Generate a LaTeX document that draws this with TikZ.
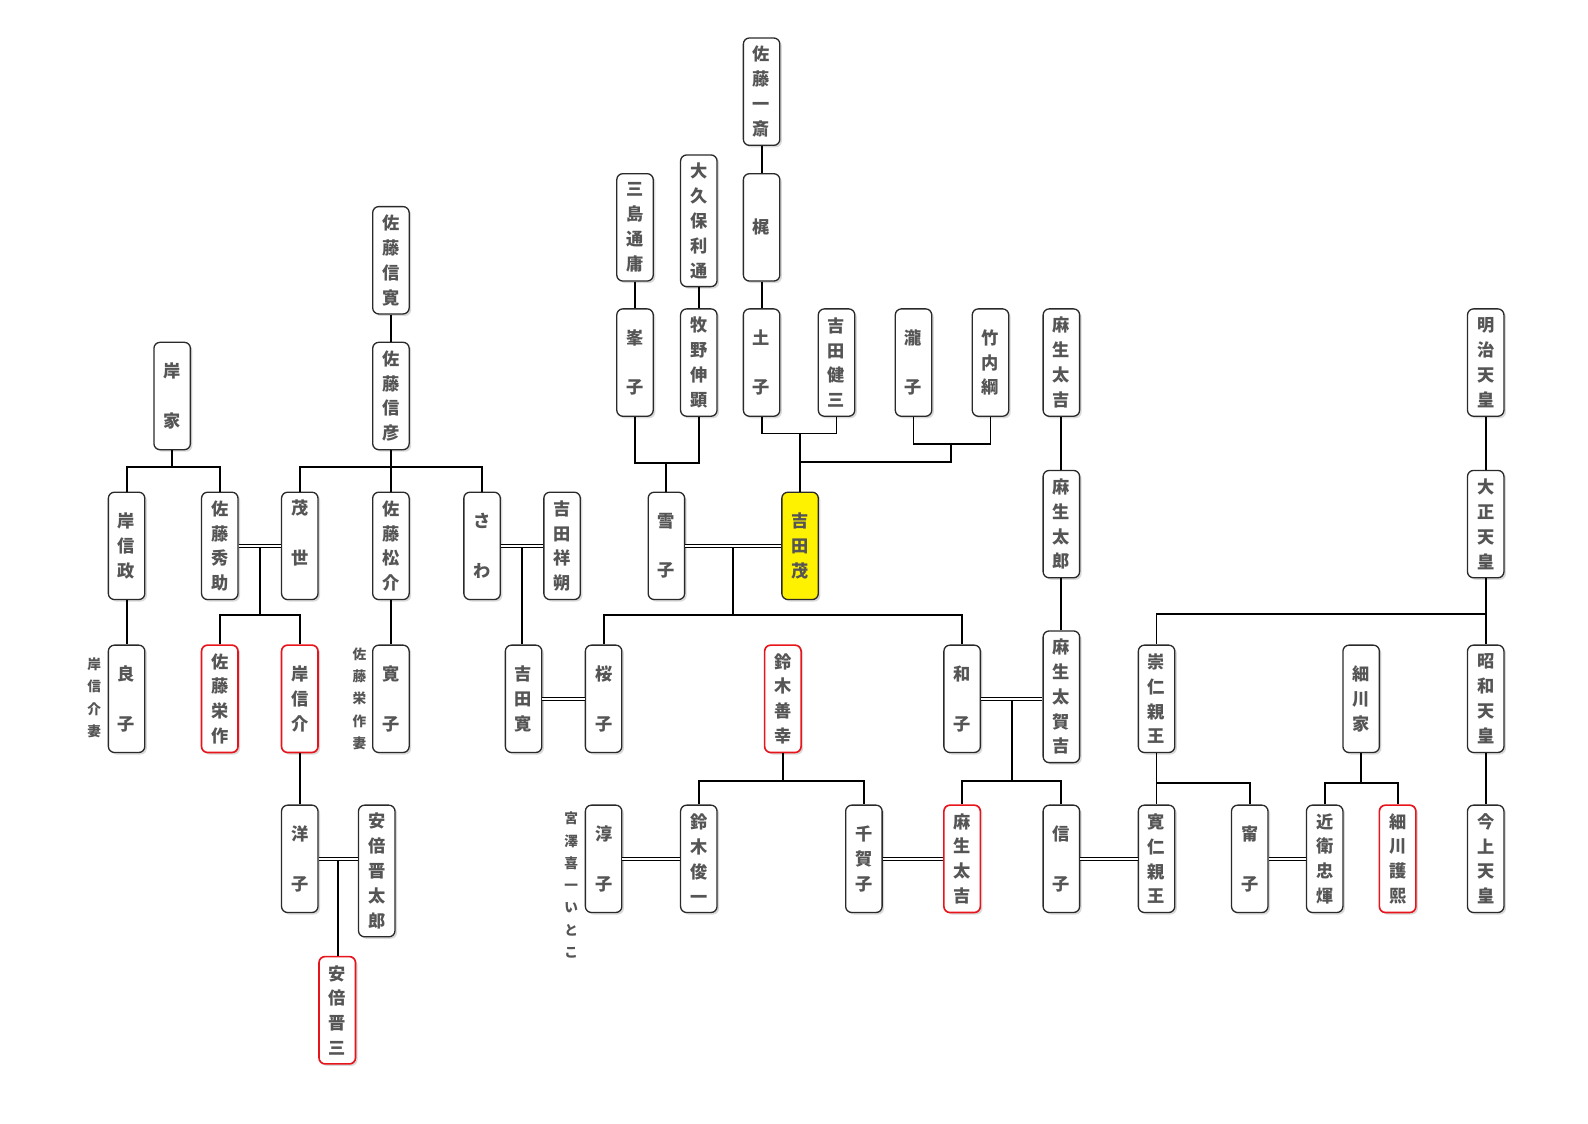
\documentclass[tikz,border=0pt]{standalone}
\usepackage{fontspec}
\newfontfamily\jp{Noto Sans CJK JP}
\usetikzlibrary{shadows,calc}
\definecolor{txt}{HTML}{555555}
\definecolor{bd}{HTML}{2A2A2A}
\definecolor{rd}{HTML}{E8141B}
\tikzset{
  btxt/.style={inner sep=0pt, align=center, text=txt, font=\jp\bfseries\fontsize{17}{24.5}\selectfont},
  pbox/.style={btxt, draw=bd, line width=1.3pt, rounded corners=6pt, fill=white,
    minimum width=36pt, minimum height=106pt,
    drop shadow={shadow xshift=2pt, shadow yshift=-2pt, opacity=0.15, fill=black}},
  tall/.style={minimum height=130pt},
  redb/.style={draw=rd, line width=1.6pt},
  yel/.style={fill=yellow},
  side/.style={inner sep=0pt, align=center, text=txt, font=\jp\bfseries\fontsize{13.5}{22}\selectfont},
  link/.style={draw=black, line width=1.8pt},
  dbl/.style={draw=black, line width=1pt, double=white, double distance=1.7pt},
}
\begin{document}
\begin{tikzpicture}[x=1pt,y=1pt]
\useasboundingbox[fill=white] (0,0) rectangle (1568,-1109);
% ---- top rows
\node[pbox] (issai) at (752,-90.5) {佐\\藤\\一\\斎};
\node[pbox] (kaji) at (752,-224.5) {梶};
\node[pbox,tall] (okubo) at (690,-218) {大\\久\\保\\利\\通};
\node[pbox] (mishima) at (627,-224.5) {三\\島\\通\\庸};
\node[pbox] (nobuhiro) at (386,-257) {佐\\藤\\信\\寛};
\node[pbox] (mineko) at (627,-358) {峯\\[24.5pt]子};
\node[pbox] (makino) at (690,-358) {牧\\野\\伸\\顕};
\node[pbox] (tsuchiko) at (752,-358) {土\\[24.5pt]子};
\node[pbox] (kenzo) at (826,-358) {吉\\田\\健\\三};
\node[pbox] (takiko) at (902,-358) {瀧\\[24.5pt]子};
\node[pbox] (takeuchi) at (978,-358) {竹\\内\\綱};
\node[pbox] (takichi) at (1048,-358) {麻\\生\\太\\吉};
\node[pbox] (meiji) at (1467,-358) {明\\治\\天\\皇};
\node[pbox] (kishike) at (170,-391) {岸\\[24.5pt]家};
\node[pbox] (nobuhiko) at (386,-391) {佐\\藤\\信\\彦};
% ---- row D
\node[pbox] (nobumasa) at (125,-539) {岸\\信\\政};
\node[pbox] (hidesuke) at (217,-539) {佐\\藤\\秀\\助};
\node[pbox] (moyo) at (296,-539) {};
\node[btxt] (moyot) at (296,-526) {茂\\[24.5pt]世};
\node[pbox] (matsusuke) at (386,-539) {佐\\藤\\松\\介};
\node[pbox] (sawa) at (476,-539) {さ\\[24.5pt]わ};
\node[pbox] (shosaku) at (555,-539) {吉\\田\\祥\\朔};
\node[pbox] (yukiko) at (658,-539) {雪\\[24.5pt]子};
\node[pbox,yel] (shigeru) at (790,-539) {吉\\田\\茂};
\node[pbox] (taro) at (1048,-517.5) {麻\\生\\太\\郎};
\node[pbox] (taisho) at (1467,-517.5) {大\\正\\天\\皇};
% ---- row E
\node[pbox] (yoshiko) at (125,-690) {良\\[24.5pt]子};
\node[pbox,redb] (eisaku) at (217,-690) {佐\\藤\\栄\\作};
\node[pbox,redb] (nobusuke) at (296,-690) {岸\\信\\介};
\node[pbox] (hiroko) at (386,-690) {寛\\[24.5pt]子};
\node[pbox] (hiroshi) at (517,-690) {吉\\田\\寛};
\node[pbox] (sakurako) at (596,-690) {桜\\[24.5pt]子};
\node[pbox,redb] (zenko) at (773,-690) {鈴\\木\\善\\幸};
\node[pbox] (kazuko) at (950,-690) {和\\[24.5pt]子};
\node[pbox,tall] (takakichi) at (1048,-688) {麻\\生\\太\\賀\\吉};
\node[pbox] (mikasa) at (1142,-690) {崇\\仁\\親\\王};
\node[pbox] (hosokawake) at (1344,-690) {細\\川\\家};
\node[pbox] (showa) at (1467,-690) {昭\\和\\天\\皇};
% ---- row F
\node[pbox] (yoko) at (296,-848) {洋\\[24.5pt]子};
\node[pbox,tall] (shintaro) at (372,-860) {安\\倍\\晋\\太\\郎};
\node[pbox] (junko) at (596,-848) {淳\\[24.5pt]子};
\node[pbox] (shunichi) at (690,-848) {鈴\\木\\俊\\一};
\node[pbox] (chikako) at (853,-848) {千\\賀\\子};
\node[pbox,redb] (taro2) at (950,-848) {麻\\生\\太\\吉};
\node[pbox] (nobuko) at (1048,-848) {信\\[24.5pt]子};
\node[pbox] (tomohito) at (1142,-848) {寛\\仁\\親\\王};
\node[pbox] (yasuko) at (1234,-848) {甯\\[24.5pt]子};
\node[pbox] (konoe) at (1308,-848) {近\\衛\\忠\\煇};
\node[pbox,redb] (morihiro) at (1380,-848) {細\\川\\護\\熙};
\node[pbox] (kinjo) at (1467,-848) {今\\上\\天\\皇};
% ---- row G
\node[pbox,redb] (shinzo) at (333,-997.5) {安\\倍\\晋\\三};
% ---- side labels
\node[side] (kishiwife) at (93,-689) {岸\\信\\介\\妻};
\node[side] (eisakuwife) at (355,-690) {佐\\藤\\栄\\作\\妻};
\node[side] (itoko) at (564,-874) {宮\\澤\\喜\\一\\い\\と\\こ};
% ---- junction coordinates
\coordinate (j1) at (658,-457);
\coordinate (j2) at (790,-428);
\coordinate (j3) at (939,-438);
\coordinate (j3b) at (790,-456);
\coordinate (j4) at (170,-461);
\coordinate (j5) at (386,-461);
\coordinate (m1) at ($(hidesuke.east)!.5!(moyo.west)$);
\coordinate (j6) at ($(m1)+(0,-68)$);
\coordinate (m2) at ($(yukiko.east)!.5!(shigeru.west)$);
\coordinate (j7) at ($(m2)+(0,-68)$);
\coordinate (m3) at ($(sawa.east)!.5!(shosaku.west)$);
\coordinate (m5) at ($(kazuko.east)!.5!(kazuko.east -| takakichi.west)$);
\coordinate (j8) at ($(m5)+(0,-81)$);
\coordinate (j9) at (773,-771);
\coordinate (m6) at ($(yoko.east)!.5!(yoko.east -| shintaro.west)$);
\coordinate (j10) at (1467,-606);
\coordinate (j11) at (1142,-773);
\coordinate (j12) at (1344,-773);
% ---- single links
\draw[link] (issai.south) -- (kaji.north);
\draw[link] (kaji.south) -- (tsuchiko.north);
\draw[link] (mishima.south) -- (mineko.north);
\draw[link] (okubo.south) -- (makino.north);
\draw[link] (mineko.south) |- (j1) -| (makino.south);
\draw[link] (j1) -- (yukiko.north);
\draw[link] (tsuchiko.south) |- (j2) -| (kenzo.south);
\draw[link] (j2) -- (shigeru.north);
\draw[link] (takiko.south) |- (j3) -| (takeuchi.south);
\draw[link] (j3) |- (j3b);
\draw[link] (nobuhiro.south) -- (nobuhiko.north);
\draw[link] (kishike.south) -- (j4);
\draw[link] (nobumasa.north) |- (j4) -| (hidesuke.north);
\draw[link] (nobuhiko.south) -- (matsusuke.north);
\draw[link] (moyo.north) |- (j5) -| (sawa.north);
\draw[link] (m1) -- (j6);
\draw[link] (eisaku.north) |- (j6) -| (nobusuke.north);
\draw[link] (m2) -- (j7);
\draw[link] (sakurako.north) |- (j7) -| (kazuko.north);
\draw[link] (m3) -- (m3 |- hiroshi.north);
\draw[link] (nobumasa.south) -- (yoshiko.north);
\draw[link] (matsusuke.south) -- (hiroko.north);
\draw[link] (nobusuke.south) -- (yoko.north);
\draw[link] (m6) -- (m6 |- shinzo.north);
\draw[link] (takichi.south) -- (taro.north);
\draw[link] (taro.south) -- (takakichi.north);
\draw[link] (m5) -- (j8);
\draw[link] (taro2.north) |- (j8) -| (nobuko.north);
\draw[link] (zenko.south) -- (j9);
\draw[link] (shunichi.north) |- (j9) -| (chikako.north);
\draw[link] (meiji.south) -- (taisho.north);
\draw[link] (taisho.south) -- (showa.north);
\draw[link] (j10) -| (mikasa.north);
\draw[link] (mikasa.south) -- (tomohito.north);
\draw[link] (j11) -| (yasuko.north);
\draw[link] (hosokawake.south) -- (j12);
\draw[link] (konoe.north) |- (j12) -| (morihiro.north);
\draw[link] (showa.south) -- (kinjo.north);
% ---- marriages
\draw[dbl] (hidesuke.east) -- (moyo.west);
\draw[dbl] (sawa.east) -- (shosaku.west);
\draw[dbl] (yukiko.east) -- (shigeru.west);
\draw[dbl] (hiroshi.east) -- (sakurako.west);
\draw[dbl] (kazuko.east) -- (kazuko.east -| takakichi.west);
\draw[dbl] (yoko.east) -- (yoko.east -| shintaro.west);
\draw[dbl] (junko.east) -- (shunichi.west);
\draw[dbl] (chikako.east) -- (taro2.west);
\draw[dbl] (nobuko.east) -- (tomohito.west);
\draw[dbl] (yasuko.east) -- (konoe.west);
\end{tikzpicture}
\end{document}
